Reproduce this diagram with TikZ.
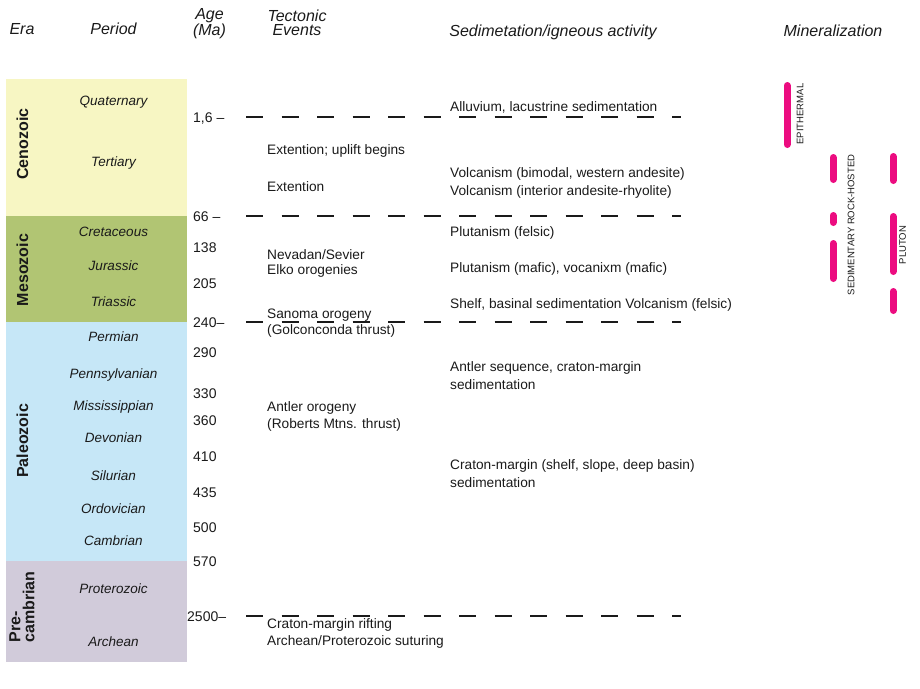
\documentclass[tikz,border=0pt]{standalone}
\usepackage{fontspec}
\setmainfont{Liberation Sans}
\definecolor{cenozoic}{HTML}{F7F6C3}
\definecolor{mesozoic}{HTML}{B1C573}
\definecolor{paleozoic}{HTML}{C6E7F7}
\definecolor{precambrian}{HTML}{D1CBDA}
\definecolor{ore}{HTML}{EC0C80}
\definecolor{ink}{HTML}{1A1A1A}
\tikzset{
  head/.style={font=\fontsize{16}{14}\selectfont\itshape, align=center, inner sep=0pt, text=ink},
  eralabel/.style={rotate=90, font=\fontsize{16}{14}\selectfont\bfseries, align=left, inner sep=0pt, text=ink},
  period/.style={font=\fontsize{13.5}{16}\selectfont\itshape, inner sep=0pt, text height=9.5pt, text depth=0pt, text=ink},
  age/.style={anchor=west, font=\fontsize{14}{16}\selectfont, inner sep=0pt, text height=10pt, text depth=0pt, text=ink},
  event/.style={anchor=west, font=\fontsize{13.7}{16}\selectfont, inner sep=0pt, text height=9.5pt, text depth=0pt, text=ink},
  boundary/.style={ink, line width=1.5pt, dash pattern=on 17pt off 18.5pt},
  orebar/.style={ore, line width=7pt, line cap=round},
  orelabel/.style={rotate=90, font=\fontsize{9.5}{10}\selectfont, inner sep=0pt, text=ink},
}
\begin{document}
\begin{tikzpicture}[x=1pt,y=-1pt]
\useasboundingbox (0,0) rectangle (920,688);
% headers
\node[head, text height=11.5pt, text depth=0pt] (hera) at (22,29) {Era};
\node[head, text height=11.5pt, text depth=0pt] (hperiod) at (113.5,29) {Period};
\node[head] (hage) at (209.5,24) {Age\\(Ma)};
\node[head] (htect) at (297,23) {Tectonic\\Events};
\node[head, text height=11.5pt, text depth=0pt] (hsed) at (553,31) {Sedimetation/igneous activity};
\node[head, text height=11.5pt, text depth=0pt] (hmin) at (833,31) {Mineralization};
% era blocks
\fill[cenozoic] (6,79) rectangle (187,216);
\fill[mesozoic] (6,216) rectangle (187,322);
\fill[paleozoic] (6,322) rectangle (187,561);
\fill[precambrian] (6,561) rectangle (187,662);
\node[eralabel] (ceno) at (22.5,144) {Cenozoic};
\node[eralabel] (meso) at (22.5,270) {Mesozoic};
\node[eralabel] (paleo) at (22.5,441) {Paleozoic};
\node[eralabel] (precam) at (22,607) {Pre-\\cambrian};
% periods
\foreach \y/\name [count=\i] in {101/Quaternary, 162/Tertiary, 232/Cretaceous,
    266/Jurassic, 302/Triassic, 337/Permian, 374/Pennsylvanian,
    406/Mississippian, 438/Devonian, 476/Silurian, 509/Ordovician,
    541/Cambrian, 589/Proterozoic, 642/Archean}
  \node[period] (p\i) at (113.5,\y) {\name};
% ages
\foreach \y/\a [count=\i] in {117/{1,6 –}, 216/66 –, 247/138, 283/205, 322/240–,
    352/290, 393/330, 420/360, 456/410, 492/435, 527/500, 561/570}
  \node[age] (a\i) at (193,\y) {\a};
\node[age] (a13) at (187,616) {2500–};
% boundaries
\foreach \y in {117, 216, 322, 616}
  \draw[boundary] (246,\y) -- (681,\y);
% tectonic events
\foreach \y/\t [count=\i] in {150/{Extention; uplift begins}, 187/Extention,
    255/{Nevadan/Sevier}, 270/Elko orogenies, 314/Sanoma orogeny,
    330/(Golconconda thrust), 407/Antler orogeny, 424/(Roberts Mtns. thrust),
    624/Craton-margin rifting, 641/{Archean/Proterozoic suturing}}
  \node[event] (t\i) at (267,\y) {\t};
% sedimentation / igneous activity
\foreach \y/\t [count=\i] in {107/{Alluvium, lacustrine sedimentation},
    173/{Volcanism (bimodal, western andesite)},
    191/Volcanism (interior andesite-rhyolite),
    232/Plutanism (felsic), 268/{Plutanism (mafic), vocanixm (mafic)},
    304/{Shelf, basinal sedimentation Volcanism (felsic)},
    367/{Antler sequence, craton-margin}, 385/sedimentation,
    465/{Craton-margin (shelf, slope, deep basin)}, 483/sedimentation}
  \node[event] (s\i) at (450,\y) {\t};
% mineralization
\draw[orebar] (787,85.5) -- (787,144.5);
\foreach \a/\b in {157.5/179.5, 215.5/222.5, 243.5/278.5}
  \draw[orebar] (833,\a) -- (833,\b);
\foreach \a/\b in {156.5/180.5, 216.5/271.5, 291.5/310.5}
  \draw[orebar] (893,\a) -- (893,\b);
\node[orelabel] (epi) at (800,114) {EPITHERMAL};
\node[orelabel] (sedhost) at (851,225) {SEDIMENTARY ROCK-HOSTED};
\node[orelabel] (pluton) at (902.5,245) {PLUTON};
\end{tikzpicture}
\end{document}
